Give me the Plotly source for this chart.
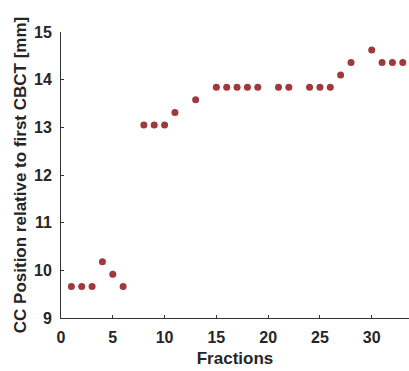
import plotly.graph_objects as go

fractions = [1, 2, 3, 4, 5, 6, 8, 9, 10, 11, 13, 15, 16, 17, 18, 19, 21, 22, 24, 25, 26, 27, 28, 30, 31, 32, 33]
cc_position = [9.66, 9.66, 9.66, 10.18, 9.92, 9.66, 13.05, 13.05, 13.05, 13.31, 13.58,
               13.84, 13.84, 13.84, 13.84, 13.84, 13.84, 13.84, 13.84, 13.84, 13.84,
               14.10, 14.36, 14.62, 14.36, 14.36, 14.36]
x_ticks = [0, 5, 10, 15, 20, 25, 30]
y_ticks = [9, 10, 11, 12, 13, 14, 15]

fig = go.Figure(go.Scatter(
    x=fractions, y=cc_position, mode="markers",
    marker=dict(color="#A0393B", size=7),
))

axis_font = dict(family="Liberation Sans, Arial, sans-serif", size=16, color="#262626")
fig.update_layout(
    width=409, height=371,
    margin=dict(l=61, r=0, t=32, b=53),
    plot_bgcolor="white", paper_bgcolor="white",
    showlegend=False,
    font=axis_font,
)
fig.update_xaxes(
    range=[0, 33.6], tickvals=x_ticks, ticktext=[f"<b>{v}</b>" for v in x_ticks],
    showgrid=False, zeroline=False, showline=True, linecolor="#333333", linewidth=1,
    ticks="inside", ticklen=3, tickcolor="#333333", ticklabelstandoff=5,
    tickfont=dict(size=16),
    title=dict(text="<b>Fractions</b>", standoff=6, font=dict(size=17)),
)
fig.update_yaxes(
    range=[9, 15], tickvals=y_ticks, ticktext=[f"<b>{v}</b>" for v in y_ticks],
    showgrid=False, zeroline=False, showline=True, linecolor="#333333", linewidth=1,
    ticks="inside", ticklen=3, tickcolor="#333333", ticklabelstandoff=5,
    tickfont=dict(size=16),
    title=dict(text="<b>CC Position relative to first CBCT [mm]</b>", standoff=3, font=dict(size=17)),
)
fig.write_html("out.html")
